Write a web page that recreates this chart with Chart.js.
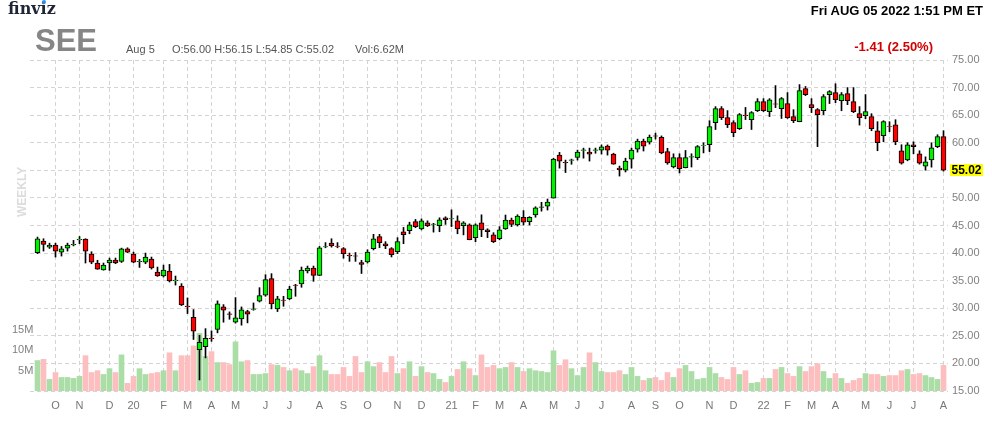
<!DOCTYPE html>
<html>
<head>
<meta charset="utf-8">
<script src="https://cdn.jsdelivr.net/npm/chart.js@4.4.1/dist/chart.umd.min.js"></script>
<style>
  body { margin: 0; background: #fff; font-family: Arial, "Liberation Sans", sans-serif; }
  #wrap { position: relative; width: 992px; height: 422px; overflow: hidden; }
  #c { position: absolute; left: 0; top: 0; }
  .t { position: absolute; white-space: nowrap; }
</style>
</head>
<body>
<div id="wrap">
  <canvas id="c" width="992" height="422" style="width:992px;height:422px"></canvas>
  <div class="t" style="left:8px;top:1px;font:bold 16px/16px 'DejaVu Serif',serif;color:#1e2535">finv<span style="position:relative">i<span style="position:absolute;left:1px;top:1px;width:4px;height:4px;border-radius:2px;background:#2f91e8"></span></span>z</div>
  <div class="t" style="left:35px;top:25px;font:bold 31px/31px Arial,'Liberation Sans',sans-serif;color:#868686">SEE</div>
  <div class="t" style="left:126px;top:44px;font:11px/11px Arial,'Liberation Sans',sans-serif;color:#555">Aug 5</div>
  <div class="t" style="left:172px;top:44px;font:11px/11px Arial,'Liberation Sans',sans-serif;color:#555">O:56.00&nbsp;H:56.15&nbsp;L:54.85&nbsp;C:55.02</div>
  <div class="t" style="left:355px;top:44px;font:11px/11px Arial,'Liberation Sans',sans-serif;color:#555">Vol:6.62M</div>
  <div class="t" style="right:9px;top:4px;font:bold 13px/13px Arial,'Liberation Sans',sans-serif;color:#000">Fri AUG 05 2022 1:51 PM ET</div>
  <div class="t" style="right:59px;top:40px;font:bold 13px/13px Arial,'Liberation Sans',sans-serif;color:#d20000">-1.41 (2.50%)</div>
  <div class="t" style="left:-3px;top:186px;width:50px;text-align:center;transform:rotate(-90deg);font:bold 12px/12px Arial,'Liberation Sans',sans-serif;color:#dcdcdc">WEEKLY</div>
</div>
<script>
// weekly candles, Sep 9 2019 .. Aug 1 2022
const opens = [
  40.06, 42.17, 41.08, 41.45, 40.18, 40.9, 41.5, 42.4, 42.53, 39.8,
  38.2, 36.93, 38.2, 38.73, 38.5, 40.78, 39.8, 38.45, 38.37, 38.92,
  36.57, 35.84, 36.75, 35.0, 34.04, 30.4, 28.37, 22.5, 23.04, 24.6,
  26.14, 30.24, 29.0, 27.47, 28.07, 29.4, 29.8, 31.27, 32.35, 35.36,
  29.88, 31.5, 31.69, 34.2, 34.4, 36.75, 37.29, 35.96, 41.1, 41.8,
  41.25, 40.8, 39.6, 39.5, 38.3, 38.4, 40.8, 42.97, 41.7, 40.8,
  40.27, 43.87, 44.05, 45.7, 44.4, 45.5, 45.2, 44.95, 46.4, 46.2,
  45.85, 44.95, 45.13, 42.8, 45.5, 44.23, 43.33, 42.6, 44.4, 46.0,
  45.1, 46.5, 45.7, 46.9, 48.3, 48.5, 49.97, 57.76, 56.45, 56.8,
  57.34, 58.6, 58.3, 58.6, 58.67, 59.4, 57.95, 55.4, 55.05, 57.04,
  58.85, 60.3, 60.12, 61.25, 61.0, 58.4, 55.62, 57.3, 55.5, 57.4,
  57.3, 59.45, 59.67, 63.65, 66.2, 64.56, 63.65, 62.57, 65.0, 64.2,
  65.83, 67.46, 65.65, 67.05, 66.2, 67.1, 64.74, 63.84, 69.8, 66.92,
  66.0, 65.82, 68.73, 69.1, 67.64, 68.9, 67.45, 65.27, 64.9, 64.73,
  62.18, 61.27, 62.95, 63.27, 58.55, 56.9, 59.64, 58.0, 55.76, 56.9,
  59.27, 61.1
];
const highs = [
  42.9, 42.6, 41.8, 41.8, 41.2, 41.8, 42.3, 43.0, 42.6, 40.24,
  38.7, 38.2, 39.1, 39.1, 40.9, 40.96, 40.18, 38.86, 40.0, 39.28,
  37.47, 37.83, 37.95, 35.84, 34.46, 31.87, 29.76, 25.1, 26.3, 25.9,
  31.33, 30.66, 29.34, 31.93, 30.24, 29.64, 30.96, 33.73, 36.08, 36.27,
  32.17, 32.17, 33.98, 34.34, 37.47, 37.65, 37.65, 41.2, 41.9, 42.6,
  41.9, 41.0, 40.0, 40.1, 38.7, 40.6, 43.4, 43.4, 42.07, 40.99,
  42.8, 44.65, 45.6, 46.1, 46.2, 45.85, 45.4, 46.4, 46.58, 47.84,
  46.76, 45.7, 45.3, 45.3, 46.94, 44.4, 43.7, 44.8, 46.9, 46.35,
  46.95, 47.7, 46.6, 48.4, 49.2, 49.8, 57.2, 58.25, 56.86, 57.04,
  58.67, 59.03, 59.03, 59.03, 59.6, 59.6, 58.1, 55.77, 57.2, 59.03,
  60.66, 60.66, 61.4, 61.75, 61.24, 59.0, 58.0, 58.0, 58.6, 58.0,
  59.5, 60.0, 64.0, 66.55, 66.55, 65.83, 64.0, 65.3, 66.4, 65.65,
  68.0, 68.0, 68.0, 70.36, 68.2, 69.1, 66.0, 70.54, 70.2, 68.0,
  66.2, 68.73, 69.45, 70.7, 69.1, 70.0, 70.0, 66.55, 68.73, 65.27,
  63.82, 64.0, 63.82, 64.18, 59.64, 60.0, 60.18, 58.55, 57.45, 60.0,
  61.45, 62.18
];
const lows = [
  39.9, 40.36, 40.84, 39.28, 39.46, 40.36, 41.3, 41.7, 38.2, 38.07,
  37.05, 36.9, 36.87, 38.07, 38.3, 40.06, 38.25, 37.4, 38.07, 37.1,
  35.78, 35.66, 34.76, 34.2, 30.48, 29.04, 24.34, 17.0, 21.0, 24.0,
  25.54, 27.47, 28.0, 27.3, 26.93, 27.35, 29.64, 31.14, 32.17, 29.88,
  29.4, 30.36, 31.57, 32.17, 33.8, 36.39, 34.88, 35.9, 40.96, 41.08,
  40.96, 39.07, 38.5, 38.5, 36.3, 38.2, 40.57, 40.99, 40.8, 39.3,
  39.9, 41.7, 43.5, 44.6, 44.2, 44.8, 43.8, 43.87, 45.2, 44.8,
  43.5, 43.3, 42.4, 42.07, 42.97, 42.8, 41.9, 42.4, 44.3, 44.8,
  44.9, 45.1, 45.1, 46.5, 47.6, 47.8, 49.97, 55.4, 54.6, 56.1,
  56.86, 57.2, 56.68, 58.1, 57.95, 57.76, 56.1, 53.96, 54.7, 55.4,
  58.3, 58.5, 59.76, 60.66, 58.0, 56.1, 55.44, 54.53, 55.44, 55.6,
  56.95, 58.16, 58.4, 62.4, 64.2, 62.75, 61.1, 62.4, 64.2, 62.4,
  65.65, 65.65, 64.74, 66.37, 64.4, 64.4, 63.65, 63.8, 68.55, 65.47,
  59.3, 65.1, 67.1, 67.27, 65.8, 66.9, 65.45, 63.2, 64.36, 62.18,
  58.55, 60.18, 62.0, 59.64, 56.12, 56.73, 58.0, 56.12, 55.03, 55.58,
  59.1, 54.85
];
const closes = [
  42.6, 41.57, 41.45, 40.36, 40.78, 41.45, 41.6, 42.5, 40.36, 38.37,
  37.1, 37.83, 38.73, 38.2, 40.78, 40.18, 38.37, 38.5, 39.28, 37.29,
  35.84, 36.93, 34.94, 35.1, 30.6, 30.3, 25.84, 23.83, 24.56, 24.5,
  30.78, 29.64, 28.9, 28.25, 29.7, 28.92, 29.9, 32.29, 35.18, 30.78,
  31.69, 31.4, 33.49, 34.15, 36.93, 37.29, 35.96, 40.96, 41.2, 41.33,
  41.2, 39.9, 39.5, 39.45, 37.93, 40.2, 42.6, 41.9, 41.3, 39.73,
  42.07, 43.33, 45.13, 44.8, 45.85, 44.95, 45.25, 46.04, 46.04, 46.25,
  44.4, 45.5, 42.43, 45.13, 44.23, 43.87, 42.07, 44.23, 46.0, 45.2,
  46.7, 45.6, 46.5, 48.2, 48.4, 49.25, 57.04, 56.68, 56.4, 56.9,
  58.3, 58.7, 57.95, 58.7, 59.27, 58.67, 56.13, 55.1, 56.68, 58.67,
  60.3, 59.4, 61.03, 61.2, 58.16, 56.34, 57.3, 55.32, 57.3, 57.5,
  59.3, 59.5, 62.93, 66.2, 64.56, 63.3, 61.84, 65.1, 64.9, 65.47,
  67.46, 65.83, 67.8, 67.0, 68.0, 64.56, 64.0, 69.46, 68.73, 66.37,
  65.1, 68.36, 69.27, 67.8, 68.73, 67.64, 65.64, 64.55, 65.64, 62.55,
  60.0, 63.82, 62.9, 60.18, 56.3, 59.64, 59.27, 56.3, 56.55, 59.1,
  61.1, 55.02
];
// weekly volume, millions of shares
const volumes = [
  7.5, 7.8, 2.85, 4.55, 3.33, 3.33, 3.1, 3.6, 8.7, 4.55,
  5.0, 4.07, 5.5, 4.55, 8.9, 1.9, 3.6, 5.5, 4.07, 4.3,
  4.55, 5.0, 9.4, 5.0, 8.7, 8.7, 11.1, 14.2, 8.5, 9.7,
  7.0, 7.0, 6.5, 12.1, 7.2, 7.5, 4.07, 4.07, 4.3, 6.5,
  6.3, 5.8, 5.0, 5.5, 5.0, 4.3, 6.0, 8.7, 5.0, 4.07,
  4.07, 5.8, 3.6, 8.5, 4.55, 7.2, 6.0, 7.0, 4.55, 8.5,
  4.3, 5.5, 7.2, 3.6, 6.0, 4.55, 4.3, 2.85, 2.1, 3.6,
  5.3, 7.2, 5.5, 3.8, 8.9, 5.8, 6.3, 5.5, 5.8, 7.0,
  5.8, 4.8, 5.5, 5.0, 4.8, 4.55, 9.9, 6.3, 7.7, 5.5,
  3.8, 5.8, 9.4, 7.0, 4.8, 4.55, 4.55, 5.0, 4.07, 5.8,
  3.6, 2.6, 3.1, 3.33, 2.6, 4.55, 3.33, 5.5, 6.3, 4.8,
  2.85, 3.1, 5.8, 4.3, 3.33, 2.85, 5.8, 4.07, 5.0, 1.9,
  2.1, 3.1, 3.1, 5.3, 5.8, 4.3, 3.6, 6.0, 4.8, 6.0,
  6.75, 4.8, 3.1, 4.3, 3.1, 1.9, 2.6, 3.1, 4.3, 4.07,
  4.07, 3.6, 3.8, 3.8, 5.0, 5.3, 4.07, 4.3, 3.8, 3.33,
  2.85, 6.3
];
// x-axis: candle index where each month starts, and its label
const monthTicks = [3, 7, 12, 16, 21, 25, 29, 33, 38, 42, 47, 51, 55, 60, 64, 69, 73, 77, 81, 86, 90, 94, 99, 103, 107, 112, 116, 121, 125, 129, 133, 138, 142, 146, 151];
const monthLabels = ['O', 'N', 'D', '20', 'F', 'M', 'A', 'M', 'J', 'J', 'A', 'S', 'O', 'N', 'D', '21', 'F', 'M', 'A', 'M', 'J', 'J', 'A', 'S', 'O', 'N', 'D', '22', 'F', 'M', 'A', 'M', 'J', 'J', 'A'];
const volTicks = [5, 10, 15];

const FONT = 'Arial, "Liberation Sans", sans-serif';
const isUp = i => closes[i] >= opens[i];

const lastLabel = {
  id: 'lastLabel',
  afterDraw(chart) {
    const ctx = chart.ctx;
    const v = closes[closes.length - 1];
    const py = Math.round(chart.scales.y.getPixelForValue(v));
    const txt = v.toFixed(2);
    ctx.save();
    ctx.font = 'bold 12px ' + FONT;
    const w = ctx.measureText(txt).width;
    ctx.fillStyle = '#ffff00';
    ctx.fillRect(950, py - 6, w + 3, 12);
    ctx.fillStyle = '#000';
    ctx.textBaseline = 'middle';
    ctx.fillText(txt, 951.5, py + 0.5);
    ctx.restore();
  }
};

const gridOpts = { color: '#d4d4d4', lineWidth: 1, drawTicks: false, offset: false };

new Chart(document.getElementById('c'), {
  type: 'bar',
  data: {
    datasets: [
      {
        label: 'body',
        data: opens.map((o, i) => ({ x: i, y: [o, closes[i]] })),
        backgroundColor: ctx => isUp(ctx.dataIndex) ? '#00f000' : '#ff0000',
        borderColor: '#000',
        borderWidth: 1,
        borderSkipped: false,
        barThickness: 5,
        grouped: false,
        order: 1,
        yAxisID: 'y'
      },
      {
        label: 'wick',
        data: lows.map((l, i) => ({ x: i, y: [l, highs[i]] })),
        backgroundColor: '#000',
        borderWidth: 0,
        barThickness: 1,
        grouped: false,
        order: 2,
        yAxisID: 'y'
      },
      {
        label: 'volume',
        data: volumes.map((v, i) => ({ x: i, y: v * 1e6 })),
        backgroundColor: ctx => isUp(ctx.dataIndex) ? 'rgb(170,222,166)' : 'rgb(252,190,190)',
        borderWidth: 0,
        barThickness: 5,
        grouped: false,
        order: 3,
        yAxisID: 'vol'
      }
    ]
  },
  options: {
    responsive: false,
    animation: false,
    events: [],
    layout: { padding: { top: 60, left: 0, right: 0, bottom: 0 } },
    plugins: { legend: { display: false }, tooltip: { enabled: false } },
    scales: {
      x: {
        type: 'linear',
        offset: false,
        bounds: 'data',
        min: -1.25,
        max: 151.75,
        afterBuildTicks: s => { s.ticks = monthTicks.map(v => ({ value: v })); },
        afterFit: s => { s.height = 31; },
        ticks: {
          autoSkip: false,
          maxRotation: 0,
          padding: 8,
          color: '#777',
          font: { family: FONT, size: 11 },
          callback: (v, idx) => monthLabels[idx]
        },
        grid: gridOpts,
        border: { display: false, dash: [4, 3] }
      },
      y: {
        position: 'right',
        min: 15,
        max: 75,
        afterFit: s => { s.width = 44; },
        ticks: {
          stepSize: 5,
          padding: 4,
          color: '#808080',
          font: { family: FONT, size: 11 },
          callback: v => v.toFixed(2)
        },
        grid: gridOpts,
        border: { display: false, dash: [4, 3] }
      },
      vol: {
        position: 'left',
        min: 0,
        max: 81.5e6,
        afterBuildTicks: s => { s.ticks = volTicks.map(v => ({ value: v * 1e6 })); },
        afterFit: s => { s.width = 30; },
        ticks: {
          mirror: true,
          crossAlign: 'far',
          padding: -18,
          color: '#808080',
          font: { family: FONT, size: 11 },
          callback: v => (v / 1e6) + 'M'
        },
        grid: { display: false, drawTicks: false },
        border: { display: false }
      }
    }
  },
  plugins: [lastLabel]
});
</script>
</body>
</html>
